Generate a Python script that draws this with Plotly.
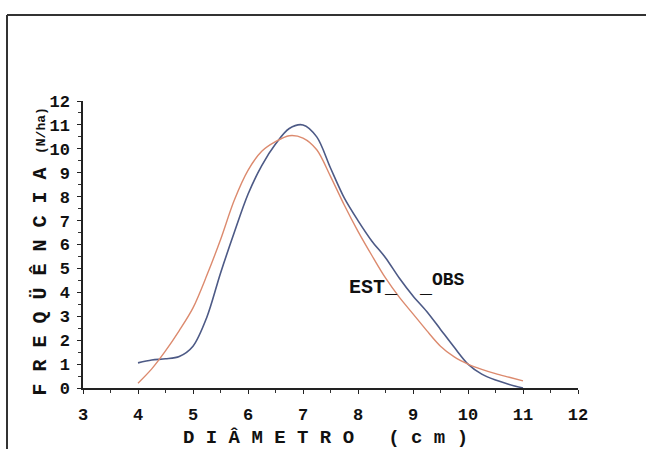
import plotly.graph_objects as go

# Diameter classes (cm)
diam = [4.0, 4.25, 4.5, 4.75, 5.0, 5.25, 5.5, 5.75, 6.0, 6.25, 6.5, 6.75, 7.0,
        7.25, 7.5, 7.75, 8.0, 8.25, 8.5, 8.75, 9.0, 9.25, 9.5, 9.75, 10.0,
        10.25, 10.5, 10.75, 11.0]

# Observed frequency (N/ha)
obs = [1.05, 1.17, 1.22, 1.32, 1.75, 2.95, 4.8, 6.5, 8.1, 9.3, 10.2, 10.85, 11.0,
       10.5, 9.2, 7.95, 7.0, 6.15, 5.45, 4.6, 3.85, 3.2, 2.45, 1.7, 1.0,
       0.58, 0.33, 0.15, 0.0]

# Estimated frequency (N/ha)
est = [0.2, 0.8, 1.55, 2.4, 3.35, 4.7, 6.2, 7.85, 9.1, 9.9, 10.3, 10.55, 10.45,
       9.96, 8.85, 7.65, 6.55, 5.55, 4.6, 3.8, 3.1, 2.4, 1.75, 1.3, 1.0,
       0.78, 0.6, 0.45, 0.3]

x_ticks = [3, 4, 5, 6, 7, 8, 9, 10, 11, 12]
y_ticks = [0, 1, 2, 3, 4, 5, 6, 7, 8, 9, 10, 11, 12]

BLUE = "#4d5a86"
ORANGE = "#dc8a6e"
MONO = "Liberation Mono, Courier New, monospace"
NB = "\u00a0"

fig = go.Figure()
fig.add_trace(go.Scatter(x=diam, y=obs, mode="lines", name="OBS",
                         line=dict(color=BLUE, width=1.6, shape="spline", smoothing=0.9)))
fig.add_trace(go.Scatter(x=diam, y=est, mode="lines", name="EST",
                         line=dict(color=ORANGE, width=1.4, shape="spline", smoothing=0.9)))

W, H = 646, 449
L, R, T, B = 83, 68, 101, 61
pw, ph = W - L - R, H - T - B


def px(xp):
    return (xp - L) / pw


def py(yp):
    return (H - B - yp) / ph


axis_common = dict(
    showline=True, linecolor="#222", linewidth=1.5,
    ticks="outside", ticklen=4, tickwidth=1.2, tickcolor="#222",
    showgrid=False, zeroline=False,
    tickfont=dict(family=MONO, size=17, color="#111", weight="bold"),
    minor=dict(ticks="outside", ticklen=3, tickwidth=1, tickcolor="#333", dtick=0.5),
)

fig.update_xaxes(range=[3, 12], tickvals=x_ticks, ticktext=[str(v) for v in x_ticks],
                 ticklabelstandoff=6, **axis_common)
fig.update_yaxes(range=[0, 12], tickvals=y_ticks, ticktext=[str(v) for v in y_ticks],
                 ticklabelstandoff=4, **axis_common)

ytitle = NB.join(list("FREQÜÊNCIA"))
xtitle = NB.join(list("DIÂMETRO")) + NB * 3 + NB.join(list("(cm)"))

TXT = dict(family=MONO, color="#111", weight="bold")

annotations = [
    dict(text=ytitle, xref="paper", yref="paper", x=px(40), y=py(281.5),
         textangle=-90, showarrow=False, xanchor="center", yanchor="middle",
         font=dict(size=20, **TXT)),
    dict(text="(N/ha)", xref="paper", yref="paper", x=px(41), y=py(131),
         textangle=-90, showarrow=False, xanchor="center", yanchor="middle",
         font=dict(size=13, **TXT)),
    dict(text=xtitle, xref="paper", yref="paper", x=px(325), y=py(437.5),
         showarrow=False, xanchor="center", yanchor="middle", borderpad=0,
         font=dict(size=19, **TXT)),
    dict(text="EST_", x=7.8, y=4.22, xref="x", yref="y", showarrow=False,
         xanchor="left", yanchor="middle", font=dict(size=20, **TXT)),
    dict(text="_", x=9.07, y=4.22, xref="x", yref="y", showarrow=False,
         xanchor="left", yanchor="middle", font=dict(size=20, **TXT)),
    dict(text="OBS", x=9.31, y=4.5, xref="x", yref="y", showarrow=False,
         xanchor="left", yanchor="middle", font=dict(size=18, **TXT)),
]

shapes = [
    dict(type="line", xref="paper", yref="paper", x0=px(7), x1=px(7), y0=py(15), y1=py(449),
         line=dict(color="#333", width=2)),
    dict(type="line", xref="paper", yref="paper", x0=px(7), x1=px(646), y0=py(15), y1=py(15),
         line=dict(color="#333", width=2)),
]

fig.update_layout(
    width=W, height=H, margin=dict(l=L, r=R, t=T, b=B),
    paper_bgcolor="white", plot_bgcolor="white",
    showlegend=False, annotations=annotations, shapes=shapes,
)

fig.write_html("out.html")
